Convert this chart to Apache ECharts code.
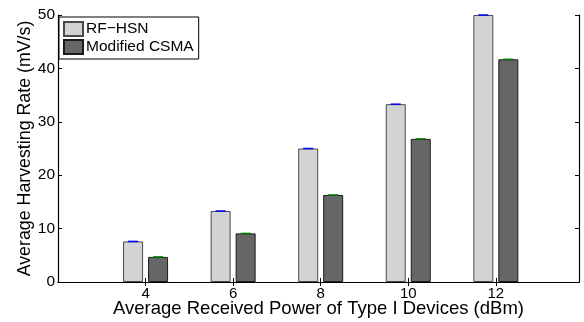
<!DOCTYPE html>
<html>
<head>
<meta charset="utf-8">
<script src="https://cdn.jsdelivr.net/npm/echarts@6/dist/echarts.min.js"></script>
<style>
  html, body { margin: 0; padding: 0; background: #fff; }
  #chart { width: 584px; height: 322px; }
</style>
</head>
<body>
<div id="chart"></div>
<script>
// data
const powers = [4, 6, 8, 10, 12];            // dBm
const rfHsn = [7.6, 13.3, 25.0, 33.3, 50.0];  // mV/s
const csma = [4.7, 9.1, 16.3, 26.8, 41.7];    // mV/s
const yTicks = [0, 10, 20, 30, 40, 50];

const font = 'Liberation Sans, Arial, sans-serif';
const barW = 20;
const gap = 5;
const shift = (barW + gap) / 2;

const chart = echarts.init(document.getElementById('chart'));

// little error-bar caps sitting on each bar
const capSeries = (name, vals, dx, color) => ({
  name: name + ' cap',
  type: 'custom',
  xAxisIndex: 0,
  yAxisIndex: 0,
  silent: true,
  clip: false,
  z: 10,
  data: powers.map((p, i) => [p, vals[i]]),
  renderItem: function (params, api) {
    const pt = api.coord([api.value(0), api.value(1)]);
    return {
      type: 'line',
      z2: 10,
      shape: { x1: pt[0] + dx - 5, y1: pt[1], x2: pt[0] + dx + 5, y2: pt[1] },
      style: { stroke: color, lineWidth: 1.5 }
    };
  }
});

const axisLine = { show: true, lineStyle: { color: '#000', width: 1.2 } };

let option = {
  backgroundColor: '#fff',
  animation: false,
  grid: { left: 58, right: 5, top: 15, bottom: 40, containLabel: false, outerBoundsMode: 'none' },
  legend: {
    left: 59,
    top: 17,
    orient: 'vertical',
    icon: 'rect',
    itemWidth: 19,
    itemHeight: 14,
    itemGap: 2,
    padding: [4, 5, 4, 4],
    borderColor: '#000',
    borderWidth: 1,
    backgroundColor: '#fff',
    data: ['RF−HSN', 'Modified CSMA'],
    textStyle: { fontFamily: font, fontSize: 15.5, color: '#000', padding: [0, 0, 0, -2] }
  },
  xAxis: [
    {
      type: 'value',
      min: 2,
      max: 13.9,
      interval: 2,
      name: 'Average Received Power of Type I Devices (dBm)',
      nameLocation: 'middle',
      nameGap: 17,
      nameMoveOverlap: false,
      nameTextStyle: { fontFamily: font, fontSize: 18.5, color: '#000' },
      axisLine: axisLine,
      axisTick: { show: true, inside: true, length: 4, lineStyle: { color: '#000' },
        customValues: powers },
      axisLabel: { fontFamily: font, fontSize: 15, color: '#000', margin: 4,
        customValues: powers },
      splitLine: { show: false }
    },
    {
      type: 'value',
      position: 'top',
      min: 2,
      max: 13.9,
      interval: 2,
      axisLine: axisLine,
      axisTick: { show: true, inside: true, length: 4, lineStyle: { color: '#000' },
        customValues: powers },
      axisLabel: { show: false },
      splitLine: { show: false }
    }
  ],
  yAxis: [
    {
      type: 'value',
      min: 0,
      max: 50,
      interval: 10,
      name: 'Average Harvesting Rate (mV/s)',
      nameLocation: 'middle',
      nameGap: 24,
      nameMoveOverlap: false,
      nameTextStyle: { fontFamily: font, fontSize: 17.8, color: '#000' },
      axisLine: axisLine,
      axisTick: { show: true, inside: true, length: 4, lineStyle: { color: '#000' },
        customValues: yTicks },
      axisLabel: { fontFamily: font, fontSize: 15.5, color: '#000', margin: 3,
        customValues: yTicks },
      splitLine: { show: false }
    },
    {
      type: 'value',
      position: 'right',
      min: 0,
      max: 50,
      interval: 10,
      axisLine: axisLine,
      axisTick: { show: true, inside: true, length: 4, lineStyle: { color: '#000' } },
      axisLabel: { show: false },
      splitLine: { show: false }
    }
  ],
  series: [
    {
      name: 'RF−HSN',
      type: 'bar',
      barWidth: barW,
      barGap: (gap / barW * 100) + '%',
      data: powers.map((p, i) => [p, rfHsn[i]]),
      itemStyle: { color: '#d3d3d3', borderColor: '#4a4a4a', borderWidth: 1 }
    },
    {
      name: 'Modified CSMA',
      type: 'bar',
      barWidth: barW,
      data: powers.map((p, i) => [p, csma[i]]),
      itemStyle: { color: '#666666', borderColor: '#1a1a1a', borderWidth: 1 }
    },
    capSeries('RF−HSN', rfHsn, -shift, '#0000ff'),
    capSeries('Modified CSMA', csma, shift, '#008000')
  ]
};

chart.setOption(option);
</script>
</body>
</html>
